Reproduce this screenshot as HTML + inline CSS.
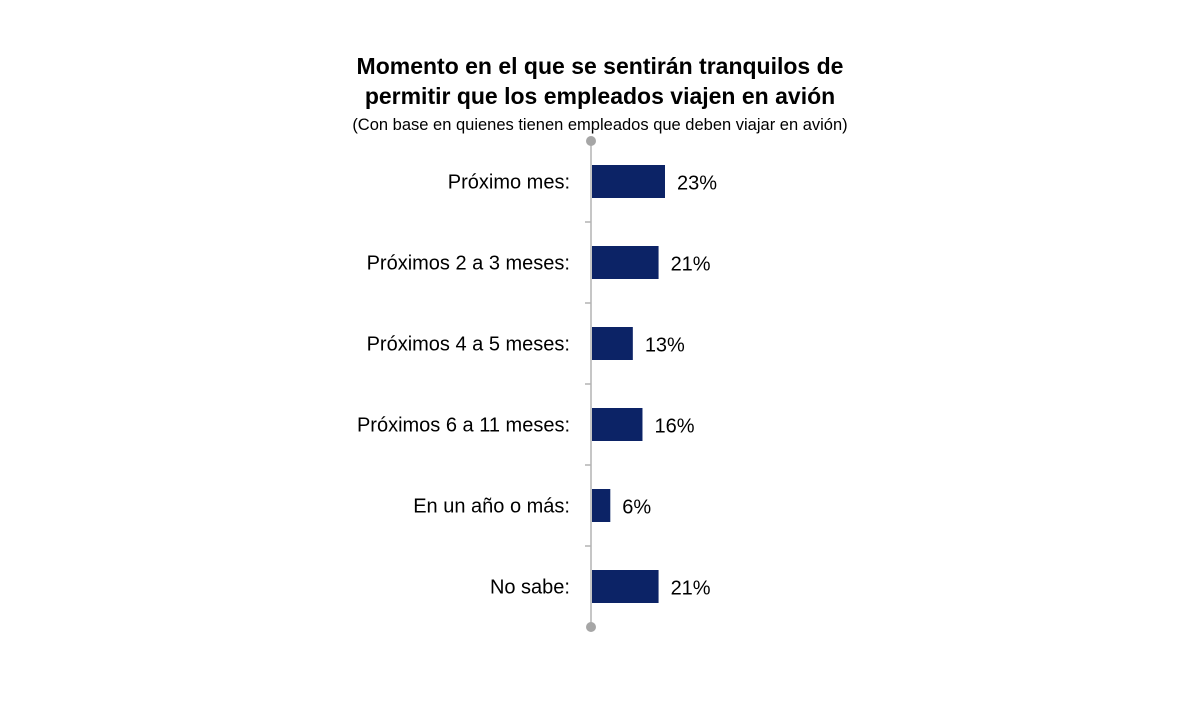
<!DOCTYPE html>
<html><head><meta charset="utf-8"><style>
body{margin:0;background:#fff;}
svg text{font-family:"Liberation Sans",Arial,sans-serif;fill:#000;}
</style></head><body>
<svg width="1200" height="700">
<text x="600" y="74" text-anchor="middle" font-size="23" font-weight="bold">Momento en el que se sentirán tranquilos de</text>
<text x="600" y="104" text-anchor="middle" font-size="23" font-weight="bold">permitir que los empleados viajen en avión</text>
<text x="600" y="130" text-anchor="middle" font-size="16.5">(Con base en quienes tienen empleados que deben viajar en avión)</text>
<g id="g"></g>
</svg>
<script>
const categories=["Próximo mes:","Próximos 2 a 3 meses:","Próximos 4 a 5 meses:","Próximos 6 a 11 meses:","En un año o más:","No sabe:"];
const values=[23,21,13,16,6,21];
const valueLabels=["23%","21%","13%","16%","6%","21%"];
const NS="http://www.w3.org/2000/svg",g=document.getElementById('g');
const x0=591,scale=74/23,yTop=141,yBottom=627,step=(yBottom-yTop)/6,bh=33;
const xs=v=>x0+v*scale, yc=i=>yTop+step*(i+0.5);
function mk(t,a){const e=document.createElementNS(NS,t);for(const k in a)e.setAttribute(k,a[k]);g.appendChild(e);return e;}
let ax=mk('line',{x1:x0,x2:x0,y1:yTop,y2:yBottom,stroke:'#b3b3b3','stroke-width':1.5});


[yTop,yBottom].forEach(y=>{let d=mk('circle',{cx:x0,cy:y,r:5,fill:'#a6a6a6'});

});
for(let i=1;i<6;i++){let t=mk('line',{x1:x0-6,x2:x0,y1:yTop+step*i,y2:yTop+step*i,stroke:'#b3b3b3','stroke-width':1.5});

}
categories.forEach((c,i)=>{
const y=yc(i);
let b=mk('rect',{x:x0+1,y:y-bh/2,width:xs(values[i])-x0-1,height:bh,fill:'#0c2366'});


let l=mk('text',{x:570,y:y+7,'text-anchor':'end','font-size':20});l.textContent=c;


let v=mk('text',{x:xs(values[i])+12,y:y+8,'font-size':20});v.textContent=valueLabels[i];


});
</script>
</body></html>
